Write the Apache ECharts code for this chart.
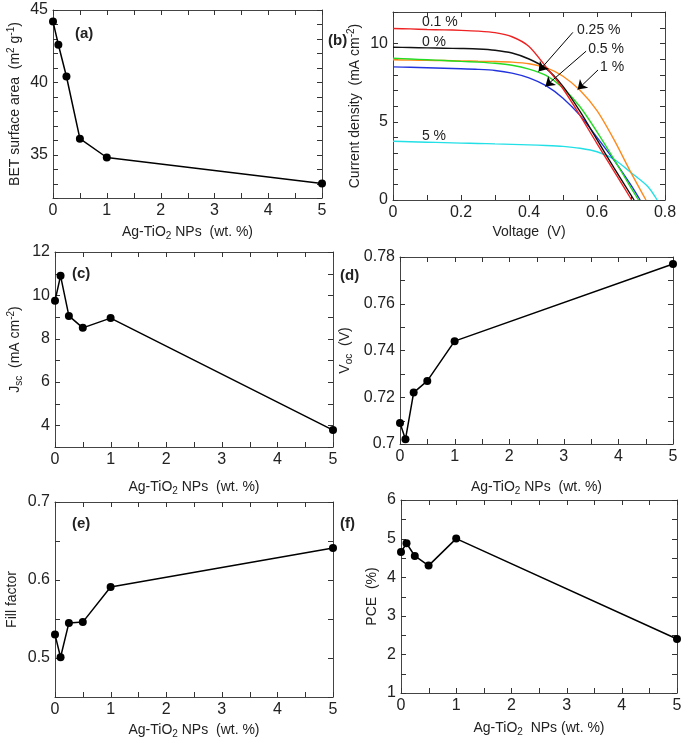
<!DOCTYPE html>
<html><head><meta charset="utf-8">
<script src="https://cdn.jsdelivr.net/npm/echarts@6/dist/echarts.min.js"></script>
<style>html,body{margin:0;padding:0;background:#fff}#c{width:685px;height:743px}</style>
</head><body><div id="c"></div>
<script>
// ---------- data ----------
const loadings = [0, 0.1, 0.25, 0.5, 1, 5];               // Ag-TiO2 NPs (wt. %)
const betArea = [44.2, 42.6, 40.4, 36.1, 34.8, 33.0];    // (a)
const jscVals = [9.75, 10.9, 9.05, 8.5, 8.95, 3.78];      // (c)
const vocVals = [0.709, 0.702, 0.722, 0.727, 0.744, 0.777]; // (d)
const ffVals  = [0.53, 0.501, 0.545, 0.546, 0.591, 0.641];  // (e)
const pceVals = [4.65, 4.88, 4.55, 4.3, 5.0, 2.4];          // (f)

// (b) J-V curves
const jvNames = ['5 %', '0.5 %', '1 %', '0.25 %', '0 %', '0.1 %'];
const voltCyan   = [0,0.05,0.1,0.15,0.2,0.25,0.3,0.35,0.4,0.45,0.5,0.55,0.6,0.65,0.7,0.75,0.777];
const curCyan    = [3.75,3.72,3.69,3.66,3.63,3.61,3.58,3.55,3.52,3.48,3.42,3.3,3.08,2.6,1.75,0.85,0];
const voltBlue   = [0,0.05,0.1,0.15,0.2,0.25,0.3,0.35,0.4,0.45,0.5,0.55,0.6,0.65,0.7,0.727];
const curBlue    = [8.5,8.47,8.44,8.41,8.38,8.34,8.27,8.1,7.8,7.3,6.5,5.4,4.0,2.55,0.95,0];
const voltOrange = [0,0.05,0.1,0.15,0.2,0.25,0.3,0.35,0.4,0.45,0.5,0.55,0.6,0.65,0.7,0.744];
const curOrange  = [8.95,8.93,8.91,8.9,8.88,8.86,8.84,8.8,8.7,8.45,7.9,7.0,5.7,3.85,1.75,0];
const voltGreen  = [0,0.05,0.1,0.15,0.2,0.25,0.3,0.35,0.4,0.45,0.5,0.55,0.6,0.65,0.7,0.722];
const curGreen   = [9.05,9.0,8.95,8.9,8.85,8.8,8.73,8.6,8.35,7.95,7.15,5.95,4.35,2.6,0.78,0];
const voltBlack  = [0,0.05,0.1,0.15,0.2,0.25,0.3,0.35,0.4,0.45,0.5,0.55,0.6,0.65,0.709];
const curBlack   = [9.75,9.73,9.71,9.69,9.67,9.64,9.56,9.38,9.0,8.4,7.25,5.65,3.85,2.05,0];
const voltRed    = [0,0.05,0.1,0.15,0.2,0.25,0.3,0.35,0.4,0.45,0.5,0.55,0.6,0.65,0.702];
const curRed     = [10.95,10.92,10.88,10.86,10.83,10.78,10.68,10.42,9.8,8.5,7.1,5.4,3.6,1.85,0];

// axis titles
const xTitles = ['Ag-TiO{sub|2} NPs  (wt. %)', 'Voltage  (V)', 'Ag-TiO{sub|2} NPs  (wt. %)',
                 'Ag-TiO{sub|2} NPs  (wt. %)', 'Ag-TiO{sub|2} NPs  (wt. %)', 'Ag-TiO{sub|2}  NPs (wt. %)'];
const yTitles = ['BET surface area  (m{sup|2} g{sup|-1})', 'Current density  (mA cm{sup|-2})',
                 'J{sub|sc}  (mA cm{sup|-2})', 'V{sub|oc}  (V)', 'Fill factor', 'PCE  (%)'];

// ---------- styles / layout ----------
const FONT = '"Liberation Sans", Arial, sans-serif';
const AXIS_COLOR = '#444';
const TEXT_COLOR = '#222';
const TICK_LEN = 5;
const jvColors = ['#22e0e6', '#2233dd', '#ff8a1c', '#22dd22', '#111111', '#ee2222'];

const jvLabelPos = {
  '0.1 %': [0.085, 11.35], '0 %': [0.085, 10.1], '5 %': [0.085, 4.05],
  '0.25 %': [0.541, 10.85], '0.5 %': [0.574, 9.65], '1 %': [0.609, 8.45]
};
const jvArrows = {
  '0.25 %': [[0.529, 10.7], [0.428, 8.2]],
  '0.5 %': [[0.568, 9.5], [0.448, 7.25]],
  '1 %': [[0.603, 8.3], [0.543, 7.05]]
};

const grids = [
  {left: 53, top: 10, width: 269, height: 188},
  {left: 393, top: 12, width: 272, height: 188},
  {left: 55, top: 252, width: 278, height: 195},
  {left: 400, top: 257, width: 273, height: 187},
  {left: 55, top: 502, width: 278, height: 195},
  {left: 401, top: 500, width: 276, height: 193}
];
const xTitleY = [232, 232, 487, 487, 730, 728];
const yTitleX = [15, 355, 15, 345, 12, 372];

const multipleOf = step => v => {
  const r = v / step;
  return Math.abs(r - Math.round(r)) < 1e-6 ? String(+v.toFixed(4)) : '';
};

const scales = [
  {x: [0, 5, 0.5, multipleOf(1)], y: [32, 45, 1, multipleOf(5)]},
  {x: [0, 0.8, 0.1, multipleOf(0.2)], y: [0, 12, 1, multipleOf(5)]},
  {x: [0, 5, 0.5, multipleOf(1)], y: [3, 12, 1, multipleOf(2)]},
  {x: [0, 5, 0.5, multipleOf(1)], y: [0.70, 0.78, 0.01, multipleOf(0.02)]},
  {x: [0, 5, 0.5, multipleOf(1)], y: [0.45, 0.70, 0.05, multipleOf(0.1)]},
  {x: [0, 5, 0.5, multipleOf(1)], y: [1, 6, 0.5, multipleOf(1)]}
];

function mkAxis(gi, cfg, pos, primary) {
  const [min, max, interval, fmt] = cfg;
  return {
    type: 'value', gridIndex: gi, position: pos, min, max, interval,
    axisLine: {show: true, onZero: false, lineStyle: {color: AXIS_COLOR, width: 1}},
    axisTick: {show: false},
    axisLabel: primary ? {show: true, formatter: fmt, margin: 5, fontSize: 16, color: TEXT_COLOR, fontFamily: FONT}
                       : {show: false},
    splitLine: {show: false}
  };
}

const xAxes = [], yAxes = [];
scales.forEach((p, gi) => {
  xAxes.push(mkAxis(gi, p.x, 'bottom', true));
  xAxes.push(mkAxis(gi, p.x, 'top', false));
  yAxes.push(mkAxis(gi, p.y, 'left', true));
  yAxes.push(mkAxis(gi, p.y, 'right', false));
});

// tick values from each axis' min / max / interval
const tickValues = ([min, max, step]) => {
  const out = [];
  const n = Math.round((max - min) / step);
  for (let i = 0; i <= n; i++) out.push(min + i * step);
  return out;
};

const series = [];

// inside tick marks on all four sides, placed through the axes' own scales
scales.forEach((p, gi) => {
  const xt = tickValues(p.x), yt = tickValues(p.y);
  const [x0, x1] = p.x, [y0, y1] = p.y;
  series.push({
    type: 'custom', xAxisIndex: 2 * gi, yAxisIndex: 2 * gi, silent: true, clip: false, z: 1,
    data: [[x0, y0]],
    renderItem: (params, api) => {
      const st = {stroke: '#333', lineWidth: 1};
      const ch = [];
      const snap = v => Math.round(v) + 0.5;
      xt.forEach(v => {
        const b = api.coord([v, y0]), t = api.coord([v, y1]);
        const x = snap(b[0]);
        ch.push({type: 'line', shape: {x1: x, y1: b[1], x2: x, y2: b[1] - TICK_LEN}, style: st});
        ch.push({type: 'line', shape: {x1: x, y1: t[1], x2: x, y2: t[1] + TICK_LEN}, style: st});
      });
      yt.forEach(v => {
        const l = api.coord([x0, v]), r = api.coord([x1, v]);
        const y = snap(l[1]);
        ch.push({type: 'line', shape: {x1: l[0], y1: y, x2: l[0] + TICK_LEN, y2: y}, style: st});
        ch.push({type: 'line', shape: {x1: r[0], y1: y, x2: r[0] - TICK_LEN, y2: y}, style: st});
      });
      return {type: 'group', children: ch};
    }
  });
});

const dotSeries = (gi, vals) => ({
  type: 'line', xAxisIndex: 2 * gi, yAxisIndex: 2 * gi, clip: false,
  data: loadings.map((x, i) => [x, vals[i]]),
  symbol: 'circle', symbolSize: 8, showSymbol: true,
  itemStyle: {color: '#000'}, lineStyle: {color: '#000', width: 1.5},
  emphasis: {disabled: true}
});
series.push(dotSeries(0, betArea));
series.push(dotSeries(2, jscVals));
series.push(dotSeries(3, vocVals));
series.push(dotSeries(4, ffVals));
series.push(dotSeries(5, pceVals));

const jvVolts = [voltCyan, voltBlue, voltOrange, voltGreen, voltBlack, voltRed];
const jvCurs  = [curCyan, curBlue, curOrange, curGreen, curBlack, curRed];
jvNames.forEach((nm, k) => {
  const s = {
    type: 'line', name: nm, xAxisIndex: 2, yAxisIndex: 2,
    data: jvVolts[k].map((v, i) => [v, jvCurs[k][i]]),
    showSymbol: false, smooth: 0.25,
    lineStyle: {color: jvColors[k], width: 1.4}, itemStyle: {color: jvColors[k]},
    emphasis: {disabled: true},
    markPoint: {
      symbol: 'circle', symbolSize: 0, silent: true,
      data: [{coord: jvLabelPos[nm]}],
      label: {show: true, position: 'right', distance: 0, formatter: nm,
              fontSize: 14, color: TEXT_COLOR, fontFamily: FONT}
    }
  };
  if (jvArrows[nm]) {
    const [a, b] = jvArrows[nm];
    s.markLine = {
      silent: true, symbol: ['none', 'arrow'], symbolSize: 9,
      label: {show: false},
      lineStyle: {color: '#000', width: 1, type: 'solid'},
      data: [[{coord: a}, {coord: b}]]
    };
  }
  series.push(s);
});

const richStyles = {
  sub: {fontSize: 10, lineHeight: 7, verticalAlign: 'bottom', fontFamily: FONT, fill: TEXT_COLOR},
  sup: {fontSize: 10, lineHeight: 8, verticalAlign: 'top', fontFamily: FONT, fill: TEXT_COLOR}
};
const titleStyle = t => ({
  text: t, fontSize: 14, lineHeight: 18, fontFamily: FONT, fill: TEXT_COLOR,
  align: 'center', verticalAlign: 'middle', rich: richStyles
});

const graphics = [];
grids.forEach((g, gi) => {
  graphics.push({type: 'text', x: g.left + g.width / 2, y: xTitleY[gi], style: titleStyle(xTitles[gi])});
  graphics.push({type: 'text', x: yTitleX[gi], y: g.top + g.height / 2, rotation: Math.PI / 2,
                 style: titleStyle(yTitles[gi])});
});
const panelTags = [['(a)', 75, 26], ['(b)', 328, 33], ['(c)', 72, 266], ['(d)', 340, 268], ['(e)', 72, 516], ['(f)', 340, 516]];
panelTags.forEach(([t, l, tp]) => graphics.push({
  type: 'text', left: l, top: tp,
  style: {text: t, font: 'bold 15px ' + FONT, fill: TEXT_COLOR}
}));

const chart = echarts.init(document.getElementById('c'));
chart.setOption({
  animation: false,
  grid: grids,
  xAxis: xAxes, yAxis: yAxes,
  series,
  graphic: graphics
});
</script></body></html>
